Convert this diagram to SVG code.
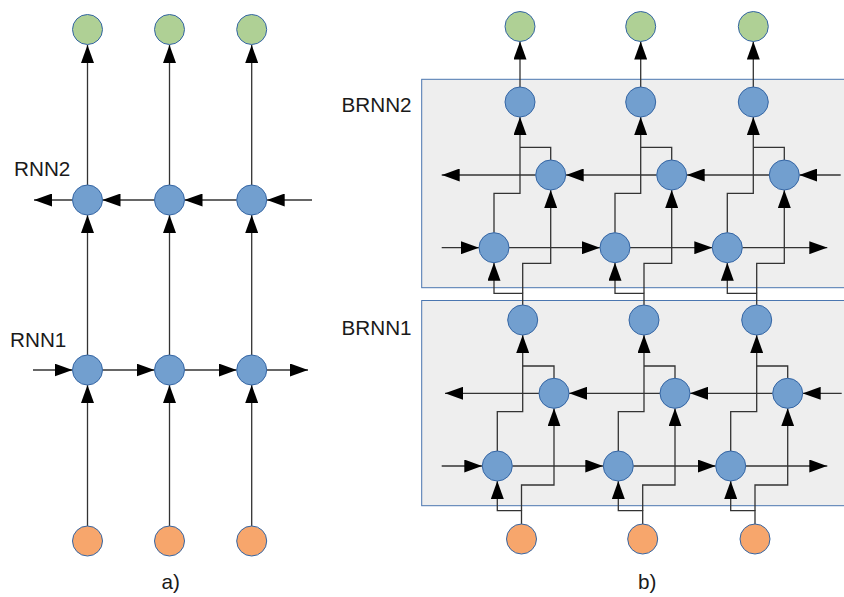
<svg xmlns="http://www.w3.org/2000/svg" width="844" height="597" viewBox="0 0 844 597">
<style>
.n{stroke:#3465a4;stroke-width:1}
.h{fill:#729fcf}
.g{fill:#afd095}
.o{fill:#f7a66c}
.c path{fill:none;stroke:#333;stroke-width:1.3}
.a{marker-end:url(#ah)}
.t{font-family:"Liberation Sans",Arial,sans-serif;font-size:20.7px;fill:#1a1a1a}
.box{fill:#eeeeee;stroke:#4a76b0;stroke-width:1}
</style>
<defs>
<marker id="ah" markerWidth="18" markerHeight="13" refX="18" refY="6.5" orient="auto" markerUnits="userSpaceOnUse" viewBox="0 0 18 13"><path d="M0,0 L18,6.5 L0,13 z" fill="#000"/></marker>
</defs>
<rect id="box-brnn2" class="box" x="421.7" y="79.3" width="430" height="208.4"/>
<rect id="box-brnn1" class="box" x="421.7" y="300.5" width="430" height="205.2"/>
<g id="connectors" class="c">
<path class="a" d="M87.5,526 V385"/>
<path class="a" d="M169.5,526 V385"/>
<path class="a" d="M251.7,526 V385"/>
<path class="a" d="M87.5,355 V215"/>
<path class="a" d="M169.5,355 V215"/>
<path class="a" d="M251.7,355 V215"/>
<path class="a" d="M87.5,185 V45"/>
<path class="a" d="M169.5,185 V45"/>
<path class="a" d="M251.7,185 V45"/>
<path class="a" d="M72.5,200 H34"/>
<path class="a" d="M154.5,200 H102.5"/>
<path class="a" d="M236.7,200 H184.5"/>
<path class="a" d="M312,200 H266.7"/>
<path class="a" d="M33,370 H72.5"/>
<path class="a" d="M102.5,370 H154.5"/>
<path class="a" d="M184.5,370 H236.7"/>
<path class="a" d="M266.7,370 H308"/>
<path class="a" d="M520,87 V41.5"/>
<path class="a" d="M640.7,87 V41.5"/>
<path class="a" d="M753.3,87 V41.5"/>
<path class="a" d="M441.7,247.7 H479"/>
<path class="a" d="M509,247.7 H600"/>
<path class="a" d="M630,247.7 H712.3"/>
<path class="a" d="M742.3,247.7 H827.3"/>
<path class="a" d="M840.7,175 H799.3"/>
<path class="a" d="M769.3,175 H686.7"/>
<path class="a" d="M656.7,175 H565.7"/>
<path class="a" d="M535.7,175 H441.7"/>
<path class="a" d="M494,232.7 V193.3 H520 V117"/>
<path d="M550.7,160 V147.3 H520"/>
<path class="a" d="M615,232.7 V193.3 H640.7 V117"/>
<path d="M671.7,160 V147.3 H640.7"/>
<path class="a" d="M727.3,232.7 V193.3 H753.3 V117"/>
<path d="M784.3,160 V147.3 H753.3"/>
<path class="a" d="M522.7,305 V293.3 H494 V262.7"/>
<path class="a" d="M522.7,293.3 V263.3 H550.7 V190"/>
<path class="a" d="M644,305 V293.3 H615 V262.7"/>
<path class="a" d="M644,293.3 V263.3 H671.7 V190"/>
<path class="a" d="M756.7,305 V293.3 H727.3 V262.7"/>
<path class="a" d="M756.7,293.3 V263.3 H784.3 V190"/>
<path class="a" d="M441.7,466 H482.3"/>
<path class="a" d="M512.3,466 H603.3"/>
<path class="a" d="M633.3,466 H715.7"/>
<path class="a" d="M745.7,466 H827.3"/>
<path class="a" d="M841.7,393.3 H802.7"/>
<path class="a" d="M772.7,393.3 H690"/>
<path class="a" d="M660,393.3 H569"/>
<path class="a" d="M539,393.3 H445"/>
<path class="a" d="M497.3,451 V411.7 H522.7 V335"/>
<path d="M554,378.3 V366 H522.7"/>
<path class="a" d="M618.3,451 V411.7 H644 V335"/>
<path d="M675,378.3 V366 H644"/>
<path class="a" d="M730.7,451 V411.7 H756.7 V335"/>
<path d="M787.7,378.3 V366 H756.7"/>
<path class="a" d="M521.5,524 V510.7 H497.3 V481"/>
<path class="a" d="M521.5,510.7 V485 H554 V408.3"/>
<path class="a" d="M642.7,524 V510.7 H618.3 V481"/>
<path class="a" d="M642.7,510.7 V485 H675 V408.3"/>
<path class="a" d="M755,524 V510.7 H730.7 V481"/>
<path class="a" d="M755,510.7 V485 H787.7 V408.3"/>
</g>
<g id="a-out1"><circle class="n g" cx="87.5" cy="29.5" r="15"/></g>
<g id="a-out2"><circle class="n g" cx="169.5" cy="29.5" r="15"/></g>
<g id="a-out3"><circle class="n g" cx="251.7" cy="29.5" r="15"/></g>
<g id="a-rnn2-1"><circle class="n h" cx="87.5" cy="200" r="15"/></g>
<g id="a-rnn2-2"><circle class="n h" cx="169.5" cy="200" r="15"/></g>
<g id="a-rnn2-3"><circle class="n h" cx="251.7" cy="200" r="15"/></g>
<g id="a-rnn1-1"><circle class="n h" cx="87.5" cy="370" r="15"/></g>
<g id="a-rnn1-2"><circle class="n h" cx="169.5" cy="370" r="15"/></g>
<g id="a-rnn1-3"><circle class="n h" cx="251.7" cy="370" r="15"/></g>
<g id="a-in1"><circle class="n o" cx="87.5" cy="541" r="15"/></g>
<g id="a-in2"><circle class="n o" cx="169.5" cy="541" r="15"/></g>
<g id="a-in3"><circle class="n o" cx="251.7" cy="541" r="15"/></g>
<g id="b-out1"><circle class="n g" cx="520" cy="26.5" r="15"/></g>
<g id="b-out2"><circle class="n g" cx="640.7" cy="26.5" r="15"/></g>
<g id="b-out3"><circle class="n g" cx="753.3" cy="26.5" r="15"/></g>
<g id="b2-top1"><circle class="n h" cx="520" cy="102" r="15"/></g>
<g id="b2-top2"><circle class="n h" cx="640.7" cy="102" r="15"/></g>
<g id="b2-top3"><circle class="n h" cx="753.3" cy="102" r="15"/></g>
<g id="b2-bwd1"><circle class="n h" cx="550.7" cy="175" r="15"/></g>
<g id="b2-bwd2"><circle class="n h" cx="671.7" cy="175" r="15"/></g>
<g id="b2-bwd3"><circle class="n h" cx="784.3" cy="175" r="15"/></g>
<g id="b2-fwd1"><circle class="n h" cx="494" cy="247.7" r="15"/></g>
<g id="b2-fwd2"><circle class="n h" cx="615" cy="247.7" r="15"/></g>
<g id="b2-fwd3"><circle class="n h" cx="727.3" cy="247.7" r="15"/></g>
<g id="b1-top1"><circle class="n h" cx="522.7" cy="320" r="15"/></g>
<g id="b1-top2"><circle class="n h" cx="644" cy="320" r="15"/></g>
<g id="b1-top3"><circle class="n h" cx="756.7" cy="320" r="15"/></g>
<g id="b1-bwd1"><circle class="n h" cx="554" cy="393.3" r="15"/></g>
<g id="b1-bwd2"><circle class="n h" cx="675" cy="393.3" r="15"/></g>
<g id="b1-bwd3"><circle class="n h" cx="787.7" cy="393.3" r="15"/></g>
<g id="b1-fwd1"><circle class="n h" cx="497.3" cy="466" r="15"/></g>
<g id="b1-fwd2"><circle class="n h" cx="618.3" cy="466" r="15"/></g>
<g id="b1-fwd3"><circle class="n h" cx="730.7" cy="466" r="15"/></g>
<g id="b-in1"><circle class="n o" cx="521.5" cy="539" r="15"/></g>
<g id="b-in2"><circle class="n o" cx="642.7" cy="539" r="15"/></g>
<g id="b-in3"><circle class="n o" cx="755" cy="539" r="15"/></g>
<g id="labels">
<text class="t" x="14" y="176">RNN2</text>
<text class="t" x="10" y="347">RNN1</text>
<text class="t" x="341.5" y="111.7">BRNN2</text>
<text class="t" x="341.5" y="335">BRNN1</text>
<text class="t" x="161.5" y="589">a)</text>
<text class="t" x="638" y="589">b)</text>
</g>
</svg>
